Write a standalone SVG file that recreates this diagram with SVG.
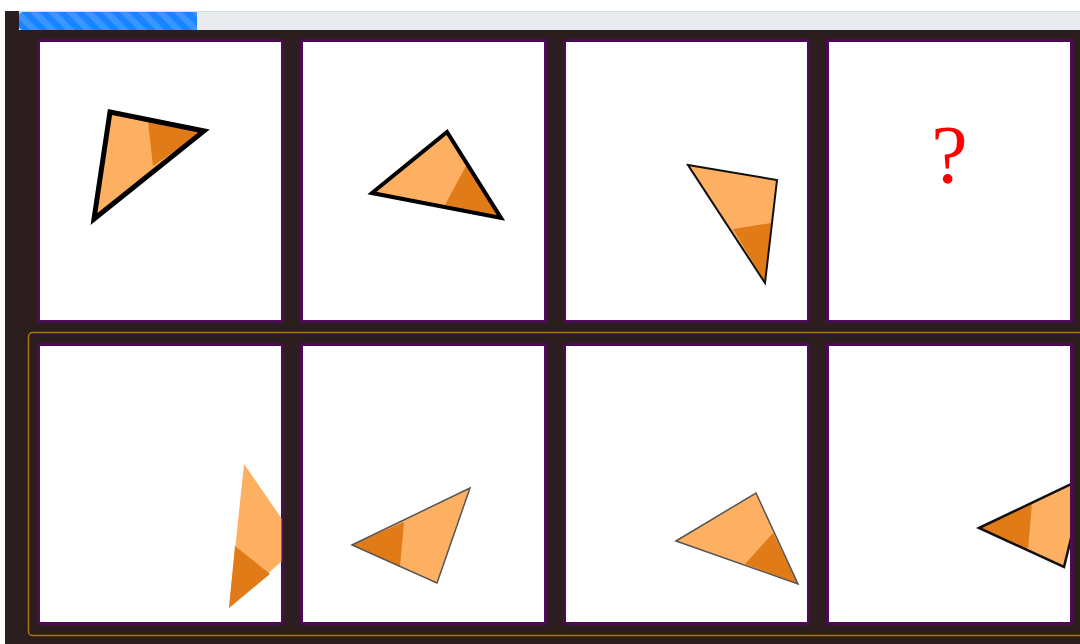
<svg xmlns="http://www.w3.org/2000/svg" width="1080" height="644" viewBox="0 0 1080 644">
  <defs>
    <style>
      .panel { fill: #ffffff; stroke: #4d0a55; stroke-width: 3; }
      .light { fill: #fdaf62; }
      .dark { fill: #e07b18; }
      .q { font-family: "Liberation Serif", "DejaVu Serif", serif; font-size: 82px; fill: #ff0000; }
    </style>
    <pattern id="stripes" patternUnits="userSpaceOnUse" width="12.7" height="12.7" patternTransform="rotate(-45)">
      <rect x="0" y="0" width="6.35" height="12.7" fill="#ffffff" fill-opacity="0.15"/>
    </pattern>
    <clipPath id="c1"><rect x="39.5" y="41.5" width="242" height="279"/></clipPath>
    <clipPath id="c2"><rect x="302.5" y="41.5" width="242" height="279"/></clipPath>
    <clipPath id="c3"><rect x="565.5" y="41.5" width="242" height="279"/></clipPath>
    <clipPath id="c5"><rect x="39.5" y="345.5" width="242" height="277"/></clipPath>
    <clipPath id="c6"><rect x="302.5" y="345.5" width="242" height="277"/></clipPath>
    <clipPath id="c7"><rect x="565.5" y="345.5" width="242" height="277"/></clipPath>
    <clipPath id="c8"><rect x="828.5" y="345.5" width="242" height="277"/></clipPath>
  </defs>

  <rect x="0" y="0" width="1080" height="644" fill="#ffffff"/>
  <rect x="5" y="11" width="1075" height="633" fill="#2c1e1e"/>

  <g id="progress">
    <rect x="19" y="11" width="1061" height="19" fill="#e9ecef"/>
    <line x1="19" y1="11.5" x2="1080" y2="11.5" stroke="#d6d9dd" stroke-width="1"/>
    <path d="M23,12 H197 V30 H23 A4,4 0 0 1 19,26 V16 A4,4 0 0 1 23,12 Z" fill="#1a84ff"/>
    <path d="M23,12 H197 V30 H23 A4,4 0 0 1 19,26 V16 A4,4 0 0 1 23,12 Z" fill="url(#stripes)"/>
  </g>

  <rect id="answers-frame" x="28.5" y="332.5" width="1060" height="303" rx="4" fill="none" stroke="#a3780f" stroke-width="1.5"/>

  <g id="panel1">
    <rect class="panel" x="38.5" y="40.5" width="244" height="281"/>
    <g clip-path="url(#c1)">
      <polygon class="light" points="110,112 204,131 94,219"/>
      <polygon class="dark" points="148,121 204,131 153,166"/>
      <polygon points="110,112 204,131 94,219" fill="none" stroke="#000" stroke-width="5" stroke-linejoin="miter"/>
    </g>
  </g>

  <g id="panel2">
    <rect class="panel" x="301.5" y="40.5" width="244" height="281"/>
    <g clip-path="url(#c2)">
      <polygon class="light" points="372,193 447,132 501,218"/>
      <polygon class="dark" points="467,164 501,218 445,205"/>
      <polygon points="372,193 447,132 501,218" fill="none" stroke="#000" stroke-width="4"/>
    </g>
  </g>

  <g id="panel3">
    <rect class="panel" x="564.5" y="40.5" width="244" height="281"/>
    <g clip-path="url(#c3)">
      <polygon class="light" points="688,165 777,180 765,283"/>
      <polygon class="dark" points="733,229 771,223 765,283"/>
      <polygon points="688,165 777,180 765,283" fill="none" stroke="#111" stroke-width="2"/>
    </g>
  </g>

  <g id="panel4">
    <rect class="panel" x="827.5" y="40.5" width="244" height="281"/>
    <text class="q" x="949.5" y="182" text-anchor="middle">?</text>
  </g>

  <g id="panel5">
    <rect class="panel" x="38.5" y="344.5" width="244" height="279"/>
    <g clip-path="url(#c5)">
      <polygon class="light" points="244,464 300,545 229,608"/>
      <polygon class="dark" points="235,546 270,574 229,608"/>
    </g>
  </g>

  <g id="panel6">
    <rect class="panel" x="301.5" y="344.5" width="244" height="279"/>
    <g clip-path="url(#c6)">
      <polygon class="light" points="352,545 470,488 437,583"/>
      <polygon class="dark" points="352,545 404,522 400,567"/>
      <polygon points="352,545 470,488 437,583" fill="none" stroke="#555" stroke-width="1.5"/>
    </g>
  </g>

  <g id="panel7">
    <rect class="panel" x="564.5" y="344.5" width="244" height="279"/>
    <g clip-path="url(#c7)">
      <polygon class="light" points="676,541 756,493 798,584"/>
      <polygon class="dark" points="773,533 798,584 745,564"/>
      <polygon points="676,541 756,493 798,584" fill="none" stroke="#555" stroke-width="1.5"/>
    </g>
  </g>

  <g id="panel8">
    <g clip-path="url(#c8)">
      <rect x="828.5" y="345.5" width="242" height="277" fill="#fff"/>
      <polygon class="light" points="979,528 1086,477 1064,567"/>
      <polygon class="dark" points="979,528 1032,503 1028,550"/>
      <polygon points="979,528 1086,477 1064,567" fill="none" stroke="#111" stroke-width="2.5"/>
    </g>
    <rect x="827.5" y="344.5" width="244" height="279" fill="none" stroke="#4d0a55" stroke-width="3"/>
  </g>
</svg>
